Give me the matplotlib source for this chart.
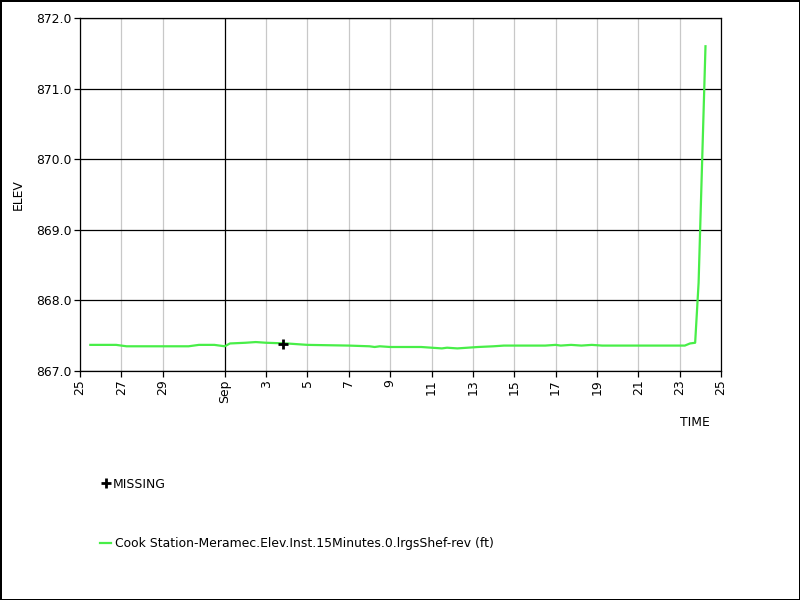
import pandas as pd
import matplotlib
matplotlib.use("Agg")
import matplotlib.pyplot as plt
from matplotlib.lines import Line2D

obs_time = [
    "2023-08-25 12:00", "2023-08-26 18:00", "2023-08-27 06:00", "2023-08-30 06:00",
    "2023-08-30 18:00", "2023-08-31 12:00", "2023-09-01 00:00", "2023-09-01 06:00",
    "2023-09-02 00:00", "2023-09-02 12:00", "2023-09-03 00:00", "2023-09-04 00:00",
    "2023-09-04 12:00", "2023-09-05 00:00", "2023-09-07 00:00", "2023-09-08 00:00",
    "2023-09-08 06:00", "2023-09-08 12:00", "2023-09-09 00:00", "2023-09-10 12:00",
    "2023-09-11 00:00", "2023-09-11 12:00", "2023-09-11 18:00", "2023-09-12 06:00",
    "2023-09-12 18:00", "2023-09-13 06:00", "2023-09-14 00:00", "2023-09-14 12:00",
    "2023-09-16 12:00", "2023-09-17 00:00", "2023-09-17 06:00", "2023-09-17 18:00",
    "2023-09-18 06:00", "2023-09-18 18:00", "2023-09-19 06:00", "2023-09-23 06:00",
    "2023-09-23 12:00", "2023-09-23 18:00", "2023-09-23 22:00", "2023-09-24 06:00",
]
elev = [
    867.37, 867.37, 867.35, 867.35,
    867.37, 867.37, 867.35, 867.39,
    867.40, 867.41, 867.40, 867.39,
    867.38, 867.37, 867.36, 867.35,
    867.34, 867.35, 867.34, 867.34,
    867.33, 867.32, 867.33, 867.32,
    867.33, 867.34, 867.35, 867.36,
    867.36, 867.37, 867.36, 867.37,
    867.36, 867.37, 867.36, 867.36,
    867.39, 867.40, 868.25, 871.60,
]

# Missing-value marker
missing_time = ["2023-09-03 19:40"]
missing_elev = [867.38]

x_start, x_end = "2023-08-25", "2023-09-25"
tick_days = ["2023-08-25", "2023-08-27", "2023-08-29", "2023-09-01", "2023-09-03",
             "2023-09-05", "2023-09-07", "2023-09-09", "2023-09-11", "2023-09-13",
             "2023-09-15", "2023-09-17", "2023-09-19", "2023-09-21", "2023-09-23",
             "2023-09-25"]
tick_labels = ["25", "27", "29", "Sep", "3", "5", "7", "9", "11", "13", "15", "17",
               "19", "21", "23", "25"]
y_ticks = [867.0, 868.0, 869.0, 870.0, 871.0, 872.0]

series_name = "Cook Station-Meramec.Elev.Inst.15Minutes.0.lrgsShef-rev (ft)"
LINE_COLOR = "#48ee48"
FS = 8.9

plt.rcParams["font.family"] = ["DejaVu Sans"]

fig = plt.figure(figsize=(8, 6), dpi=100, edgecolor="black", linewidth=1.0)
ax = fig.add_axes([0.1, 1 - 371 / 600, 0.80125, (371 - 18) / 600])

t = pd.to_datetime(obs_time)
ticks = pd.to_datetime(tick_days)

# grid: light grey verticals, black for month start, black horizontals
for d in ticks:
    if d.day == 1:
        ax.axvline(d, color="black", lw=0.9, zorder=1)
    else:
        ax.axvline(d, color="#c8c8c8", lw=0.9, zorder=1)
for yv in y_ticks:
    ax.axhline(yv, color="black", lw=0.9, zorder=1)

ax.plot(t, elev, color=LINE_COLOR, lw=1.6, zorder=3)
ax.plot(pd.to_datetime(missing_time), missing_elev, linestyle="none", marker="+",
        color="black", markersize=6.5, markeredgewidth=2.0, zorder=4)

ax.set_xlim(pd.Timestamp(x_start), pd.Timestamp(x_end))
ax.set_ylim(867.0, 872.0)
ax.set_xticks(ticks)
ax.set_xticklabels(tick_labels, rotation=90, fontsize=FS)
ax.set_yticks(y_ticks)
ax.set_yticklabels([f"{v:.1f}" for v in y_ticks], fontsize=FS)
ax.tick_params(direction="out", length=4, width=0.9, color="black", pad=2)
for s in ax.spines.values():
    s.set_color("black")
    s.set_linewidth(0.9)

ax.set_ylabel("ELEV", fontsize=FS)
ax.yaxis.set_label_coords(-0.086, 0.5)
ax.text(0.959, -0.147, "TIME", transform=ax.transAxes, ha="center", va="center",
        fontsize=FS)

# legend entries below the plot
miss_handle = Line2D([], [], linestyle="none", marker="+", color="black",
                     markersize=6.5, markeredgewidth=2.0)
line_handle = Line2D([], [], color=LINE_COLOR, lw=1.6)
leg1 = fig.legend([miss_handle], ["MISSING"], loc="center left",
                  bbox_to_anchor=(101 / 800, 1 - 484 / 600), frameon=False,
                  fontsize=FS, handlelength=0.8, handletextpad=0.15,
                  borderaxespad=0, borderpad=0)
fig.legend([line_handle], [series_name], loc="center left",
           bbox_to_anchor=(100 / 800, 1 - 544 / 600), frameon=False,
           fontsize=FS, handlelength=0.9, handletextpad=0.3,
           borderaxespad=0, borderpad=0)

fig.savefig("out.png", dpi=100)
